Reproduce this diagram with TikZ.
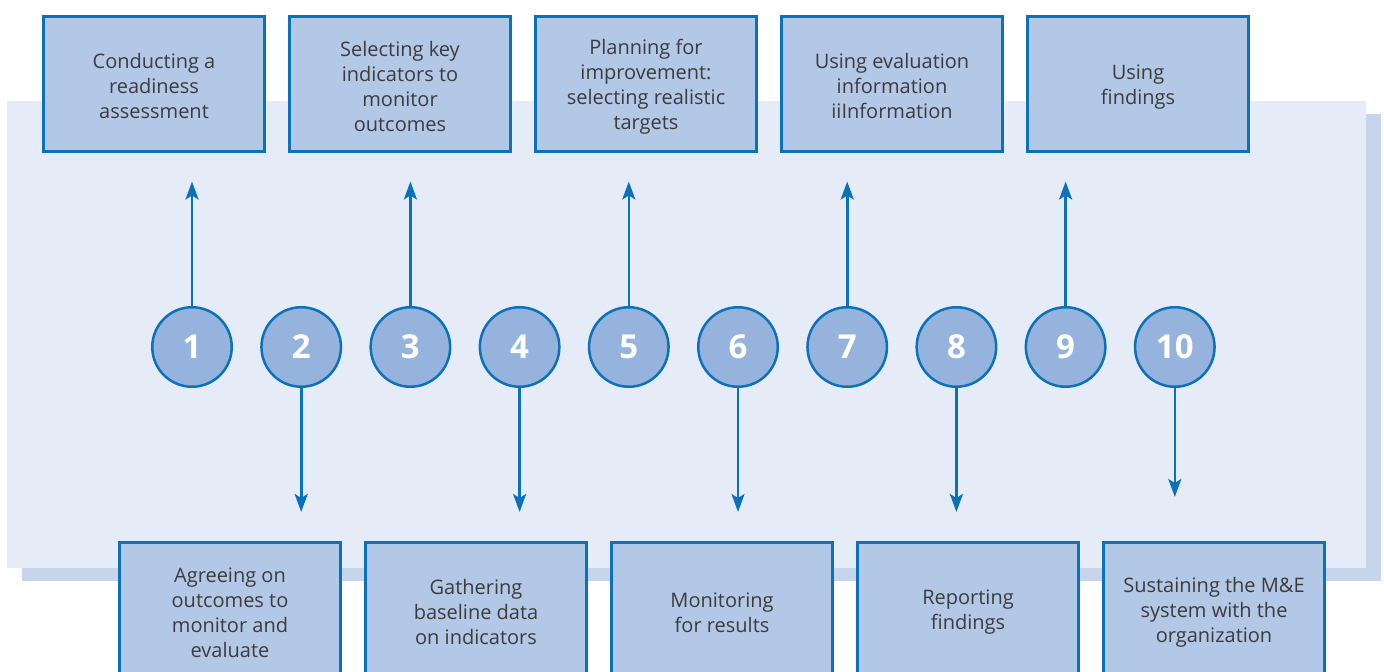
\documentclass[tikz,border=0pt]{standalone}
\usepackage{fontspec}
\setmainfont{Open Sans}
\usetikzlibrary{positioning, arrows.meta}
\definecolor{boxfill}{HTML}{B3C7E6}
\definecolor{edgeblue}{HTML}{0B72BA}
\definecolor{circfill}{HTML}{95B3DD}
\definecolor{panelblue}{HTML}{E5ECF7}
\definecolor{panelshadow}{HTML}{C6D4EC}
\definecolor{textgrey}{HTML}{3C3C3C}
% pushes the box text a little down
\newcommand{\boxstrut}{\rule{0pt}{9.6pt}}
\begin{document}
\begin{tikzpicture}[x=0.5pt, y=-0.5pt,
  stepbox/.style={rectangle, draw=edgeblue, line width=1.5pt, fill=boxfill, text=textgrey, minimum width=110.5pt, minimum height=67.5pt, inner sep=0pt, align=center, font=\fontsize{10}{12.5}\selectfont},
  num/.style={circle, draw=edgeblue, line width=1.25pt, fill=circfill, text=white, minimum size=39.75pt, inner sep=0pt, font=\fontsize{16.5}{16.5}\selectfont\bfseries},
  arrow/.style={-{Stealth[length=9pt,width=6.5pt,inset=2pt]}, line width=1.3pt, color=edgeblue}
]
\useasboundingbox (0,0) rectangle (1384,672);
\clip (0,0) rectangle (1384,672);

% background panel and its shadow
\fill[panelshadow] (22,114) rectangle (1381,581);
\fill[panelblue] (7,101) rectangle (1366,568);

% upper row
\node[stepbox] (b1) at (154,84.5) {\boxstrut Conducting a\\readiness\\assessment};
\node[stepbox, right=11pt of b1] (b3) {\boxstrut Selecting key\\indicators to\\monitor\\outcomes};
\node[stepbox, right=11pt of b3] (b5) {\boxstrut Planning for\\improvement:\\selecting realistic\\targets};
\node[stepbox, right=11pt of b5] (b7) {\boxstrut Using evaluation\\information\\iiInformation};
\node[stepbox, right=11pt of b7] (b9) {\boxstrut Using\\findings};

% lower row
\node[stepbox] (b2) at (230,610) {\boxstrut Agreeing on\\outcomes to\\monitor and\\evaluate};
\node[stepbox, right=11pt of b2] (b4) {\boxstrut Gathering\\baseline data\\on indicators};
\node[stepbox, right=11pt of b4] (b6) {\boxstrut Monitoring\\for results};
\node[stepbox, right=11pt of b6] (b8) {\boxstrut Reporting\\findings};
\node[stepbox, right=11pt of b8] (b10) {\boxstrut Sustaining the M\&E\\system with the\\organization};

% numbered steps
\node[num] (c1) at (192,347) {1};
\node[num, right=13.6pt of c1] (c2) {2};
\node[num, right=13.6pt of c2] (c3) {3};
\node[num, right=13.6pt of c3] (c4) {4};
\node[num, right=13.6pt of c4] (c5) {5};
\node[num, right=13.6pt of c5] (c6) {6};
\node[num, right=13.6pt of c6] (c7) {7};
\node[num, right=13.6pt of c7] (c8) {8};
\node[num, right=13.6pt of c8] (c9) {9};
\node[num, right=13.6pt of c9] (c10) {10};

% arrows up to the upper row
\draw[arrow, shorten >=14pt] (c1) -- (c1 |- b1.south);
\draw[arrow, shorten >=14pt] (c3) -- (c3 |- b3.south);
\draw[arrow, shorten >=14pt] (c5) -- (c5 |- b5.south);
\draw[arrow, shorten >=14pt] (c7) -- (c7 |- b7.south);
\draw[arrow, shorten >=14pt] (c9) -- (c9 |- b9.south);

% arrows down to the lower row
\draw[arrow, shorten >=14.5pt] (c2) -- (c2 |- b2.north);
\draw[arrow, shorten >=14.5pt] (c4) -- (c4 |- b4.north);
\draw[arrow, shorten >=14.5pt] (c6) -- (c6 |- b6.north);
\draw[arrow, shorten >=14.5pt] (c8) -- (c8 |- b8.north);
\draw[arrow, shorten >=22pt] (c10) -- (c10 |- b10.north);
\end{tikzpicture}
\end{document}
